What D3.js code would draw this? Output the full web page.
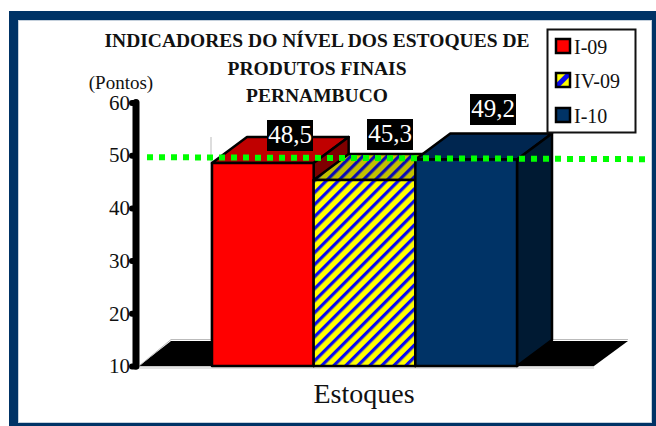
<!DOCTYPE html>
<html>
<head>
<meta charset="utf-8">
<title>Indicadores do nivel dos estoques</title>
<script src="https://cdn.jsdelivr.net/npm/d3@7"></script>
<style>
  html, body { margin: 0; padding: 0; background: #fff; }
  svg { display: block; }
  text { font-family: "Liberation Serif", serif; fill: #111; }
</style>
</head>
<body>
<svg id="chart" width="656" height="426"></svg>
<script>
// ======================================================================
// DATA
// ======================================================================
var categories = ["I-09", "IV-09", "I-10"];
var values = [48.5, 45.3, 49.2];
var valueLabels = ["48,5", "45,3", "49,2"];
var yTicks = [10, 20, 30, 40, 50, 60];
var referenceLevel = [50];
var titleLines = ["INDICADORES DO NÍVEL DOS ESTOQUES DE", "PRODUTOS FINAIS", "PERNAMBUCO"];
var unitLabel = "(Pontos)";
var xLabel = "Estoques";

// ======================================================================
// LAYOUT
// ======================================================================
var depthX = 35, depthY = 26;
var frontFill = ["#ff0000", "url(#stripes)", "#003366"];
var topFill = ["#c00000", "url(#stripesDark)", "#002650"];
var sideFill = ["#800000", "#806000", "#001a33"];
var swatchFill = ["#ff0000", "url(#stripesLegend)", "#003366"];
var labelBoxX = [267, 367, 470];
var labelBoxY = [120, 119, 94];
var legendY = [39, 73, 108];

var svg = d3.select("#chart");
var y = d3.scaleLinear().domain([10, 60]).range([366, 102.5]);
var x = d3.scaleBand().domain(categories).range([212, 517]);

// ======================================================================
// PATTERNS
// ======================================================================
function addStripes(id, size, yellow, blue, stripeWidth, origin) {
    var p = svg.append("defs").append("pattern")
        .attr("id", id)
        .attr("patternUnits", "userSpaceOnUse")
        .attr("width", size)
        .attr("height", size)
        .attr("patternTransform", "translate(" + origin + ") rotate(45)");
    p.append("rect").attr("width", size).attr("height", size).attr("fill", yellow);
    p.append("rect").attr("width", stripeWidth).attr("height", size).attr("fill", blue);
}
addStripes("stripes", 8.5, "#ffff00", "#0a0af0", 3.2, "0,0");
addStripes("stripesDark", 8.5, "#c0c000", "#0a0ab4", 3.2, "0,0");
// the legend swatch only shows one wide band through its centre
addStripes("stripesLegend", 24, "#ffff00", "#0a0af0", 5, "561.2,78.2");

// ======================================================================
// FRAME
// ======================================================================
svg.append("rect").attr("x", 13.5).attr("y", 15.5).attr("width", 642).attr("height", 412)
    .attr("fill", "#fff").attr("stroke", "#003366").attr("stroke-width", 9);
svg.append("rect").attr("x", 18.5).attr("y", 20.5).attr("width", 633).attr("height", 402)
    .attr("fill", "none").attr("stroke", "#c4d0dc").attr("stroke-width", 1);

// ======================================================================
// WALLS AND FLOOR
// ======================================================================
var floorLeft = 139, floorRight = 594, base = y(10);

svg.append("path")
    .attr("d", "M" + floorLeft + "," + base + "L" + (floorLeft + 32) + "," + (base - 25) +
        "L" + (floorRight + 34) + "," + (base - 25) + "L" + floorRight + "," + base + "Z")
    .attr("fill", "#000");
svg.append("path")
    .attr("d", "M" + floorLeft + "," + base + "L" + (floorLeft + 32) + "," + (base - 26.5) +
        "L211,339.5V137M552,133V339.5H" + (floorRight + 34))
    .attr("fill", "none").attr("stroke", "#bbb").attr("stroke-width", 1);
svg.append("path")
    .attr("d", "M" + floorLeft + "," + (base + 0.5) + "H" + floorRight + "M" + floorLeft + "," + (base + 2) + "H" + floorRight)
    .attr("fill", "none").attr("stroke", "#c8c8c8").attr("stroke-width", 1);

// ======================================================================
// BARS
// ======================================================================
var bars = svg.selectAll(".bar")
    .data(categories)
    .enter().append("g")
    .attr("class", "bar")
    .attr("stroke", "#000")
    .attr("stroke-width", 2.5)
    .attr("stroke-linejoin", "round");

bars.append("path")
    .attr("fill", function(d, i) { return topFill[i]; })
    .attr("d", function(d, i) {
        var x0 = x(d), x1 = x0 + x.bandwidth(), t = y(values[i]);
        return "M" + x0 + "," + t + "L" + (x0 + depthX) + "," + (t - depthY) +
            "H" + (x1 + depthX) + "L" + x1 + "," + t + "Z";
    });

bars.append("path")
    .attr("fill", function(d, i) { return sideFill[i]; })
    .attr("d", function(d, i) {
        var x1 = x(d) + x.bandwidth(), t = y(values[i]);
        return "M" + x1 + "," + t + "L" + (x1 + depthX) + "," + (t - depthY) +
            "V" + (base - depthY) + "L" + x1 + "," + base + "Z";
    });

bars.append("rect")
    .attr("x", function(d) { return x(d); })
    .attr("y", function(d, i) { return y(values[i]); })
    .attr("width", x.bandwidth())
    .attr("height", function(d, i) { return base - y(values[i]); })
    .attr("fill", function(d, i) { return frontFill[i]; });

// ======================================================================
// Y AXIS
// ======================================================================
var axis = svg.append("g")
    .attr("transform", "translate(136,0)")
    .call(d3.axisLeft(y).tickValues(yTicks).tickSize(4).tickPadding(2).tickFormat(d3.format("d")));

axis.select(".domain")
    .attr("d", "M0," + y(60) + "V" + y(10))
    .attr("stroke", "#000").attr("stroke-width", 7).attr("stroke-linecap", "round");
axis.selectAll(".tick line")
    .attr("stroke", "#000").attr("stroke-width", 6).attr("stroke-linecap", "round");
axis.selectAll(".tick text")
    .attr("font-family", "Liberation Serif")
    .attr("font-size", 21)
    .attr("fill", "#111");

// ======================================================================
// REFERENCE LINE
// ======================================================================
svg.selectAll(".reference")
    .data(referenceLevel)
    .enter().append("line")
    .attr("class", "reference")
    .attr("x1", 147).attr("x2", 646)
    .attr("y1", function(d) { return y(d) + 2; })
    .attr("y2", function(d) { return y(d) + 4; })
    .attr("stroke", "#00ff00")
    .attr("stroke-width", 6)
    .attr("stroke-dasharray", "6 6");

// ======================================================================
// VALUE LABELS
// ======================================================================
var labels = svg.selectAll(".label")
    .data(valueLabels)
    .enter().append("g")
    .attr("class", "label");

labels.append("rect")
    .attr("x", function(d, i) { return labelBoxX[i]; })
    .attr("y", function(d, i) { return labelBoxY[i]; })
    .attr("width", 46).attr("height", 31)
    .attr("fill", "#000");

labels.append("text")
    .attr("x", function(d, i) { return labelBoxX[i] + 23; })
    .attr("y", function(d, i) { return labelBoxY[i] + 23; })
    .attr("text-anchor", "middle")
    .attr("font-size", 25)
    .style("fill", "#fff")
    .text(function(d) { return d; });

// ======================================================================
// LEGEND
// ======================================================================
svg.append("rect").attr("x", 547.5).attr("y", 29.5).attr("width", 88).attr("height", 103)
    .attr("fill", "#fff").attr("stroke", "#111").attr("stroke-width", 2);

var legend = svg.selectAll(".legend")
    .data(categories)
    .enter().append("g")
    .attr("class", "legend");

legend.append("rect")
    .attr("x", 556)
    .attr("y", function(d, i) { return legendY[i]; })
    .attr("width", 14).attr("height", 14)
    .attr("fill", function(d, i) { return swatchFill[i]; })
    .attr("stroke", "#000").attr("stroke-width", 2.5);

legend.append("text")
    .attr("x", 574)
    .attr("y", function(d, i) { return legendY[i] + 14.5; })
    .attr("font-size", 20)
    .text(function(d) { return d; });

// ======================================================================
// TEXT
// ======================================================================
svg.selectAll(".title")
    .data(titleLines)
    .enter().append("text")
    .attr("class", "title")
    .attr("x", 317)
    .attr("y", function(d, i) { return 47 + i * 27.5; })
    .attr("text-anchor", "middle")
    .attr("font-size", 19.5)
    .attr("font-weight", "bold")
    .text(function(d) { return d; });

svg.append("text").attr("x", 121).attr("y", 89)
    .attr("text-anchor", "middle").attr("font-size", 19).text(unitLabel);

svg.append("text").attr("x", 364).attr("y", 403)
    .attr("text-anchor", "middle").attr("font-size", 28).text(xLabel);
</script>
</body>
</html>
